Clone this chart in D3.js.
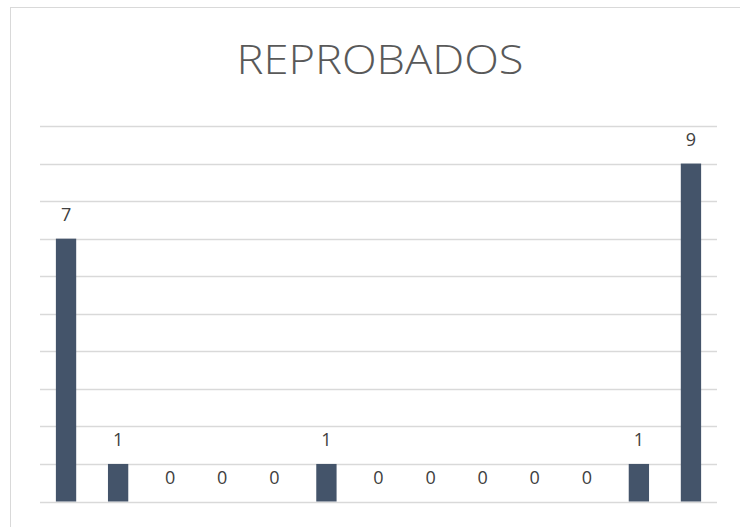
<!DOCTYPE html>
<html>
<head>
<meta charset="utf-8">
<script src="https://cdn.jsdelivr.net/npm/d3@7"></script>
<style>
  body { margin: 0; background: #fff; }
  svg { display: block; }
</style>
</head>
<body>
<svg id="chart" width="740" height="527"></svg>
<script>
// data
var categories = ['1', '2', '3', '4', '5', '6', '7', '8', '9', '10', '11', '12', '13'];
var reprobados = [7, 1, 0, 0, 0, 1, 0, 0, 0, 0, 0, 1, 9];
var yTicks = [0, 1, 2, 3, 4, 5, 6, 7, 8, 9, 10];
var chartTitle = 'REPROBADOS';

var svg = d3.select('#chart'),
    plotLeft = 40,
    plotRight = 717,
    plotTop = 126,
    plotBottom = 501.5;

// chart border (only top/left visible in the crop)
svg.append('rect')
    .attr('x', 10.5).attr('y', 7.5)
    .attr('width', 760).attr('height', 560)
    .attr('fill', 'none')
    .attr('stroke', '#d9d9d9');

svg.append('text')
    .attr('x', 380).attr('y', 73.5)
    .attr('text-anchor', 'middle')
    .attr('font-family', 'Open Sans, sans-serif')
    .attr('font-weight', 300)
    .attr('font-size', 40)
    .attr('fill', '#595959')
    .attr('textLength', 287)
    .attr('lengthAdjust', 'spacingAndGlyphs')
    .text(chartTitle);

var x = d3.scaleBand()
    .domain(categories)
    .range([plotLeft, plotRight])
    .paddingInner(0.61)
    .paddingOuter(0.305);

var y = d3.scaleLinear()
    .domain([0, 10])
    .range([plotBottom, plotTop]);

// gridlines
svg.append('g')
    .selectAll('line')
    .data(yTicks)
    .join('line')
    .attr('x1', plotLeft).attr('x2', plotRight)
    .attr('y1', function (d) { return Math.round(y(d)) + 0.5; })
    .attr('y2', function (d) { return Math.round(y(d)) + 0.5; })
    .attr('stroke', '#d9d9d9')
    .attr('stroke-width', 1.3);

// bars
svg.append('g')
    .selectAll('rect')
    .data(reprobados)
    .join('rect')
    .attr('x', function (d, i) { return x(categories[i]); })
    .attr('y', function (d) { return y(d); })
    .attr('width', x.bandwidth())
    .attr('height', function (d) { return y(0) - y(d); })
    .attr('fill', '#44546a');

// value labels
svg.append('g')
    .selectAll('text')
    .data(reprobados)
    .join('text')
    .attr('x', function (d, i) { return x(categories[i]) + x.bandwidth() / 2; })
    .attr('y', function (d) { return y(d) - 17.5; })
    .attr('text-anchor', 'middle')
    .attr('font-family', 'Open Sans, sans-serif')
    .attr('font-size', 18)
    .attr('fill', '#404040')
    .text(function (d) { return d; });
</script>
</body>
</html>
